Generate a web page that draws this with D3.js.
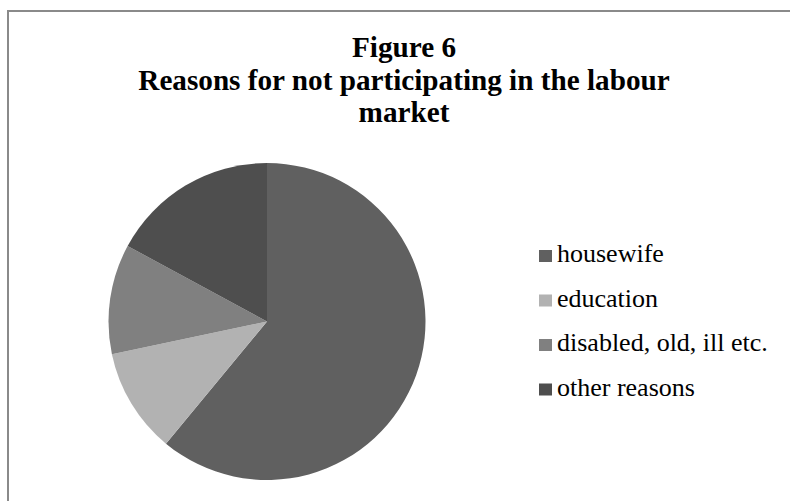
<!DOCTYPE html>
<html>
<head>
<meta charset="utf-8">
<script src="https://cdn.jsdelivr.net/npm/d3@7"></script>
<style>
  html, body { margin: 0; padding: 0; background: #fff; }
  svg { display: block; }
</style>
</head>
<body>
<svg id="chart" width="790" height="501"></svg>
<script>
const categories = ["housewife", "education", "disabled, old, ill etc.", "other reasons"];
const values = [61.0, 10.7, 11.2, 17.1];
const colors = ["#606060", "#b2b2b2", "#808080", "#4e4e4e"];
const titleLines = ["Figure 6", "Reasons for not participating in the labour", "market"];

const svg = d3.select("#chart");
const serif = "'Liberation Serif', 'Times New Roman', Times, serif";

// chart border
svg.append("rect")
  .attr("x", 8).attr("y", 11)
  .attr("width", 800).attr("height", 520)
  .attr("fill", "#fff")
  .attr("stroke", "#8a8a8a")
  .attr("stroke-width", 2);

// title
const title = svg.append("text")
  .attr("text-anchor", "middle")
  .attr("font-family", serif)
  .attr("font-weight", "bold")
  .attr("font-size", 29.2)
  .attr("fill", "#000");
titleLines.forEach((t, i) => {
  title.append("tspan")
    .attr("x", 404)
    .attr("y", 57 + i * 32.5)
    .text(t);
});

// pie
const cx = 267, cy = 321.5, r = 158.5;
const pie = d3.pie().sort(null).value(d => d)(values);
const arc = d3.arc().innerRadius(0).outerRadius(r);
const g = svg.append("g").attr("transform", `translate(${cx},${cy})`);
g.selectAll("path")
  .data(pie)
  .join("path")
  .attr("d", arc)
  .attr("fill", (d, i) => colors[i]);

// legend
const y = d3.scalePoint().domain(categories).range([262, 395.5]);
const leg = svg.append("g");
const items = leg.selectAll("g").data(categories).join("g")
  .attr("transform", d => `translate(0,${y(d)})`);
items.append("rect")
  .attr("x", 539).attr("y", -12)
  .attr("width", 13).attr("height", 12)
  .attr("fill", (d, i) => colors[i]);
items.append("text")
  .attr("x", 557).attr("y", 0)
  .attr("font-family", serif)
  .attr("font-size", 26)
  .attr("fill", "#000")
  .text(d => d);
</script>
</body>
</html>
